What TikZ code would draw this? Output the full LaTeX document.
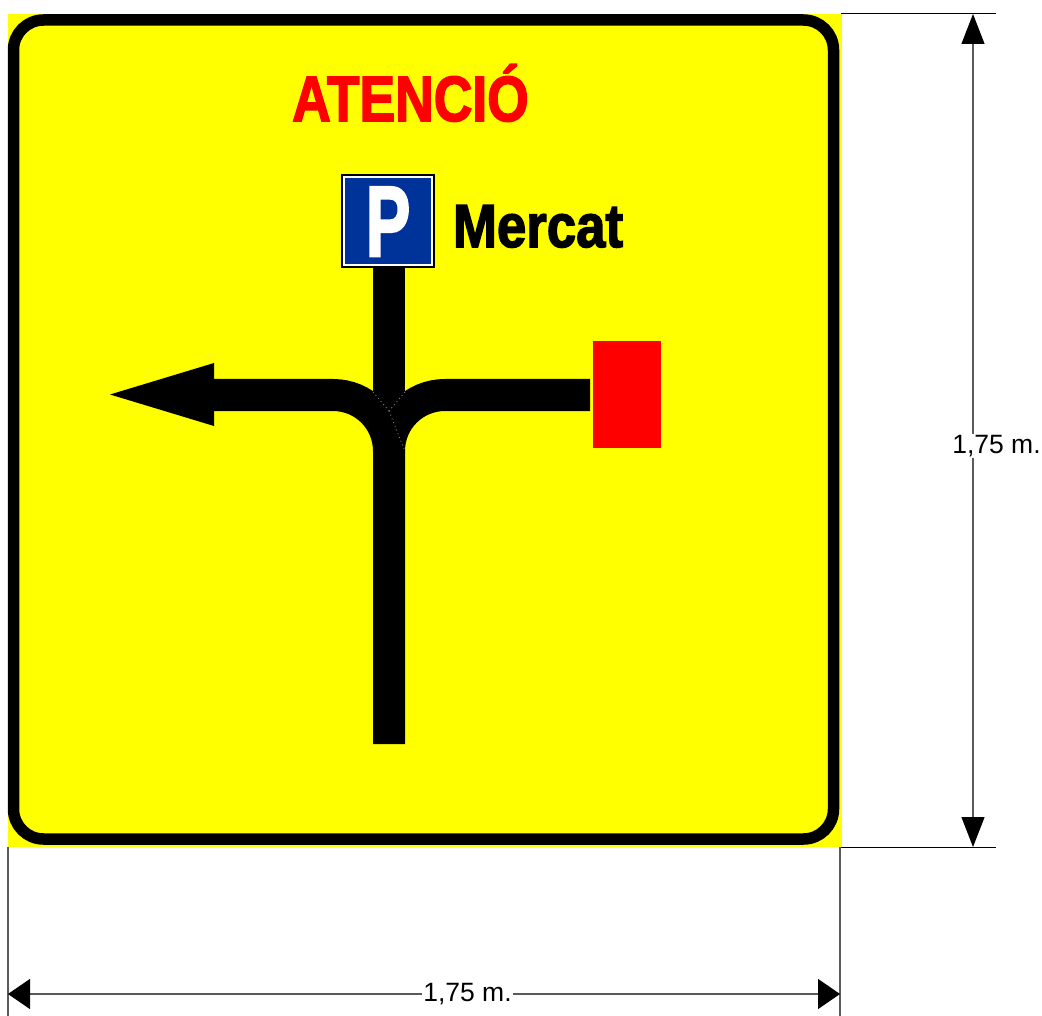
\documentclass[tikz,border=0pt]{standalone}
\usepackage{fontspec}
\setmainfont{Liberation Sans}
\newfontfamily\heavyfont[FakeBold=2.5]{Liberation Sans Bold}
\usetikzlibrary{arrows.meta}
\definecolor{signyellow}{RGB}{255,255,0}
\definecolor{signblue}{RGB}{0,51,153}
\definecolor{dimgray}{RGB}{90,90,90}
\tikzset{
  x=1pt,y=-1pt,
  plain/.style={inner sep=0pt,outer sep=0pt},
  road/.style={line width=32pt,black,line cap=butt},
  seam/.style={gray,line width=0.8pt,dash pattern=on 1pt off 3pt},
  dimline/.style={dimgray,line width=1.2pt},
  extline/.style={dimgray,line width=1.2pt},
  extlinedark/.style={black,line width=1pt},
  dimarrowv/.style={dimline,{Triangle[length=30pt,width=23pt,black]}-{Triangle[length=30pt,width=23pt,black]}},
  dimarrowh/.style={dimline,{Triangle[length=22pt,width=30pt,black]}-{Triangle[length=22pt,width=30pt,black]}},
  dimlabel/.style={plain,fill=white,inner xsep=1pt,inner ysep=1pt,font=\fontsize{26.5}{27}\selectfont,text=black},
}
\begin{document}
\begin{tikzpicture}
\useasboundingbox[fill=white] (0,0) rectangle (1042,1016);
% panel
\node[plain,fill=signyellow,anchor=north west,minimum width=834pt,minimum height=833pt] (panel) at (8,14) {};
\node[plain,draw=black,line width=11.5pt,rounded corners=30pt,minimum width=820pt,minimum height=819pt] (frame) at (423.5,429.5) {};
% texts
\node[plain,anchor=base,text=red,xscale=0.835,font=\fontsize{64}{64}\heavyfont] (title) at (410.5,121) {ATENCIÓ};
\node[plain,anchor=base west,text=black,xscale=0.865,font=\fontsize{61}{61}\heavyfont] (market) at (453,247) {Mercat};
% parking sign
\node[plain,fill=white,draw=black,line width=1.5pt,minimum width=92pt,minimum height=92pt] (sign) at (388,221) {};
\node[plain,fill=signblue,minimum width=86pt,minimum height=86pt] (signface) at (388,221) {};
\node[plain,anchor=base,text=white,xscale=0.67,font=\fontsize{100}{100}\heavyfont] (pletter) at (388,256) {P};
% destination
\node[plain,fill=red,minimum width=68pt,minimum height=107pt] (dest) at (627,394.5) {};
% roads
\coordinate (foot) at (389,744);
\coordinate (junction) at (389,451);
\coordinate (leftbend) at (333,395);
\coordinate (rightbend) at (445,395);
\coordinate (headbase) at (214,395);
\coordinate (headtop) at (214,363);
\coordinate (headbot) at (214,426);
\coordinate (lefttip) at (110,394.5);
\coordinate (rightend) at (590,395);
\draw[road] (sign.south -| foot) -- (foot);
\draw[road] (foot) -- (junction) .. controls (389,420) and (364,395) .. (leftbend) -- (headbase);
\fill[black] (headtop) -- (lefttip) -- (headbot) -- cycle;
\draw[road] (junction) .. controls (389,420) and (414,395) .. (rightbend) -- (rightend);
% seams
\coordinate (seamtop) at (389,411);
\draw[seam] (373,392) -- (seamtop);
\draw[seam] (405,392) -- (seamtop);
\draw[seam] (seamtop) -- (404,449);
% dimensions
\coordinate (tr) at (841,14);
\coordinate (trend) at (996,14);
\coordinate (br) at (841,847);
\coordinate (brend) at (996,847);
\coordinate (bl) at (8,847);
\coordinate (blend) at (8,1016);
\coordinate (brb) at (840,847);
\coordinate (brbend) at (840,1016);
\coordinate (vtop) at (973,14);
\coordinate (vbot) at (973,847);
\coordinate (hleft) at (8,994);
\coordinate (hright) at (840,994);
\draw[extlinedark] (tr) -- (trend);
\draw[extlinedark] (br) -- (brend);
\draw[extline] (bl) -- (blend);
\draw[extline] (brb) -- (brbend);
\draw[dimarrowv] (vtop) -- (vbot);
\draw[dimarrowh] (hleft) -- (hright);
\node[dimlabel] (vlabel) at (996.5,446) {1,75 m.};
\node[dimlabel] (hlabel) at (467.5,994) {1,75 m.};
\end{tikzpicture}
\end{document}
